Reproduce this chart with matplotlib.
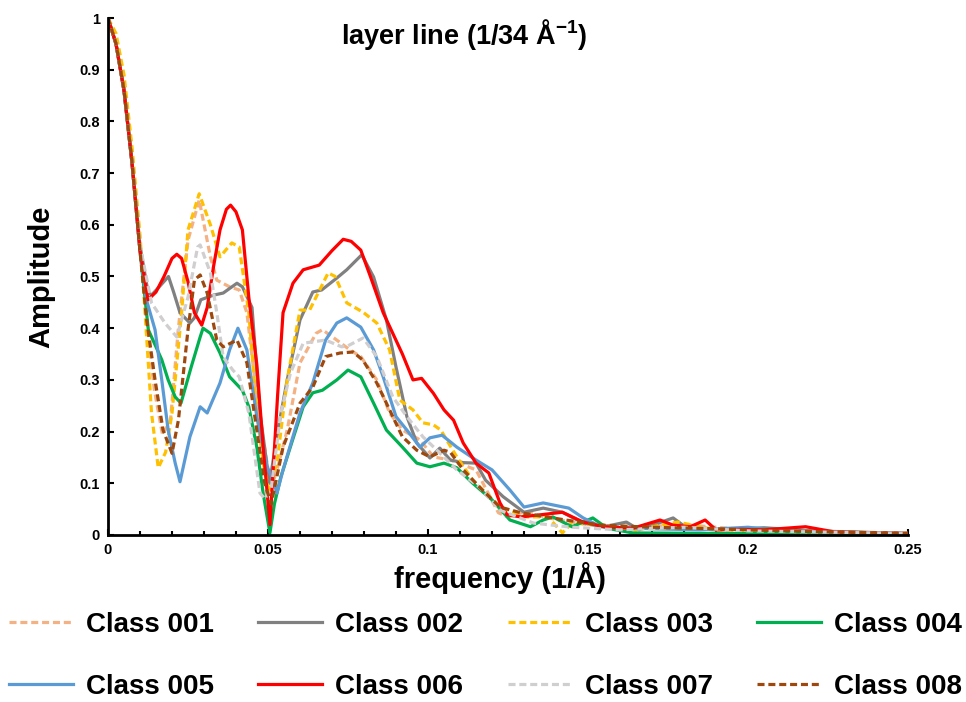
import matplotlib
matplotlib.use("Agg")
import matplotlib.pyplot as plt
from matplotlib.ticker import MultipleLocator, FormatStrFormatter

plt.rcParams['font.family'] = ['Liberation Sans', 'DejaVu Sans']
plt.rcParams['font.weight'] = 'bold'
plt.rcParams['mathtext.fontset'] = 'custom'
plt.rcParams['mathtext.rm'] = 'Liberation Sans:bold'

# data (frequency in 1/A, amplitude)
x001 = [0, .0025, .005, .0075, .01, .012, .0145, .017, .0195, .022, .025, .0285, .032, .034, .038, .041,
        .0434, .0465, .0497, .051, .053, .056, .06, .065, .067, .0715, .0756, .079, .084, .088, .092, .0975,
        .1017, .107, .115, .122, .125, .13, .14, .15, .165, .18, .2, .25]
y001 = [1, .95, .87, .73, .56, .42, .28, .195, .22, .40, .57, .648, .538, .493, .48, .474,
        .43, .267, .139, .09, .13, .203, .333, .39, .397, .377, .358, .345, .30, .236, .203, .184,
        .151, .145, .126, .043, .035, .045, .03, .02, .015, .02, .01, .003]

x002 = [0, .0025, .005, .0075, .01, .0125, .0136, .016, .0189, .0205, .0225, .0256, .027, .029, .033, .036,
        .0403, .042, .045, .0475, .05, .0505, .053, .056, .06, .064, .0668, .0715, .0746, .0793, .083, .087,
        .09, .0934, .0965, .1006, .1037, .107, .111, .115, .118, .1235, .13, .136, .142, .1485, .155, .162,
        .166, .1766, .181, .19, .205, .22, .25]
y002 = [1, .95, .86, .72, .56, .47, .464, .48, .50, .47, .43, .41, .42, .455, .464, .468,
        .487, .48, .44, .236, .12, .10, .20, .30, .416, .47, .474, .497, .513, .542, .499, .416,
        .325, .229, .178, .149, .168, .145, .14, .139, .106, .074, .044, .052, .044, .023, .016, .025,
        .01, .033, .013, .01, .014, .008, .003]

x003 = [0, .0025, .005, .0075, .01, .012, .0136, .0157, .018, .02, .023, .025, .0285, .032, .035, .0387,
        .041, .044, .0465, .0485, .0505, .053, .056, .06, .063, .0688, .071, .0746, .0797, .084, .088, .0912,
        .0953, .0984, .1017, .104, .109, .114, .1225, .131, .1375, .142, .145, .154, .165, .178, .19, .21, .25]
y003 = [1, .97, .89, .75, .58, .39, .236, .13, .16, .236, .43, .59, .66, .60, .538, .565,
        .557, .43, .236, .139, .08, .15, .30, .435, .435, .507, .50, .449, .431, .41, .358, .261,
        .242, .217, .213, .203, .151, .106, .054, .035, .035, .004, .023, .02, .01, .025, .01, .008, .003]

x004 = [0, .0025, .005, .0075, .01, .0126, .0168, .0188, .021, .0228, .026, .0288, .0297, .032, .035, .038,
        .042, .044, .0465, .0485, .0506, .052, .054, .058, .061, .064, .067, .0715, .075, .079, .083, .087,
        .092, .0965, .1006, .105, .109, .114, .12, .1256, .132, .136, .139, .145, .1515, .156, .164, .19, .25]
y004 = [1, .95, .86, .72, .55, .397, .339, .30, .267, .255, .325, .383, .40, .39, .352, .306,
        .28, .248, .17, .08, .004, .06, .112, .19, .248, .275, .28, .30, .319, .306, .255, .203,
        .17, .139, .132, .139, .13, .10, .068, .029, .016, .029, .035, .016, .033, .013, .004, .003, .002]

x005 = [0, .0025, .005, .0075, .01, .012, .0147, .0168, .0188, .021, .0225, .0256, .0288, .031, .035, .038,
        .0406, .0434, .0465, .0497, .0516, .0528, .0547, .06, .064, .068, .0715, .0746, .079, .083, .086, .09,
        .0934, .0975, .1006, .1044, .109, .115, .12, .1256, .13, .136, .144, .1485, .154, .17, .185, .2, .21, .25]
y005 = [1, .95, .86, .72, .55, .455, .397, .30, .203, .139, .103, .19, .248, .236, .294, .358,
        .40, .358, .229, .132, .106, .081, .126, .236, .294, .377, .41, .42, .402, .358, .306, .229,
        .203, .17, .188, .193, .17, .145, .126, .087, .054, .062, .052, .033, .016, .012, .01, .015, .008, .003]

x006 = [0, .0025, .005, .0075, .01, .0125, .015, .0175, .02, .0215, .023, .025, .027, .0293, .031, .033,
        .035, .037, .0383, .04, .042, .044, .0465, .0485, .0506, .053, .0547, .0578, .061, .066, .07, .0735,
        .076, .079, .082, .086, .089, .092, .0953, .098, .1017, .105, .108, .111, .115, .119, .1225, .1247,
        .129, .135, .142, .1485, .155, .164, .1725, .1766, .182, .1866, .19, .198, .205, .218, .227, .24, .25]
y006 = [1, .95, .86, .72, .55, .455, .47, .50, .535, .543, .535, .49, .43, .406, .44, .52,
        .59, .63, .638, .625, .59, .46, .33, .17, .02, .27, .43, .487, .513, .522, .55, .572,
        .568, .551, .50, .43, .39, .35, .30, .303, .274, .242, .222, .178, .139, .12, .062, .039,
        .035, .039, .044, .025, .016, .013, .029, .019, .016, .029, .01, .011, .01, .016, .006, .004, .003]

x007 = [0, .0025, .005, .0075, .01, .0136, .0178, .0215, .025, .028, .0288, .032, .034, .036, .039, .041,
        .044, .0475, .049, .051, .054, .057, .061, .068, .073, .075, .0797, .084, .089, .0934, .0984, .1028,
        .109, .116, .1225, .133, .145, .16, .18, .2, .25]
y007 = [1, .95, .86, .72, .56, .449, .41, .383, .46, .557, .561, .507, .43, .344, .319, .306,
        .236, .081, .07, .09, .236, .313, .371, .377, .364, .366, .381, .345, .267, .229, .19, .164,
        .126, .093, .048, .023, .015, .01, .015, .008, .003]

x008 = [0, .0025, .005, .0075, .01, .012, .0147, .0172, .02, .022, .025, .027, .0288, .031, .034, .036,
        .0403, .0434, .0465, .049, .051, .0547, .06, .064, .068, .0725, .0766, .0797, .084, .088, .092, .0965,
        .1006, .105, .107, .111, .117, .1225, .129, .143, .154, .17, .19, .21, .25]
y008 = [1, .95, .86, .72, .55, .42, .30, .203, .158, .222, .397, .493, .503, .468, .377, .364,
        .377, .333, .203, .10, .06, .17, .255, .286, .345, .352, .354, .338, .294, .242, .19, .164,
        .151, .164, .16, .126, .087, .054, .043, .029, .019, .015, .012, .008, .003]

names = ["Class 001", "Class 002", "Class 003", "Class 004",
         "Class 005", "Class 006", "Class 007", "Class 008"]
xs = [x001, x002, x003, x004, x005, x006, x007, x008]
ys = [y001, y002, y003, y004, y005, y006, y007, y008]
colors = ["#F4B183", "#808080", "#FFC000", "#00B050",
          "#5B9BD5", "#FF0000", "#D0CECE", "#9E480E"]
dashed = [True, False, True, False, False, False, True, True]

fig = plt.figure(figsize=(9.66, 7.02), dpi=100)
ax = fig.add_axes([108 / 966, 1 - 535 / 702, 800 / 966, 517 / 702])

handles = []
for x, y, c, d, n in zip(xs, ys, colors, dashed, names):
    if d:
        ln, = ax.plot(x, y, color=c, lw=2.3, dashes=(2.2, 1.2), label=n)
    else:
        ln, = ax.plot(x, y, color=c, lw=2.3, label=n)
    handles.append(ln)

ax.set_xlim(0, 0.25)
ax.set_ylim(0, 1)
ax.xaxis.set_major_locator(MultipleLocator(0.05))
ax.xaxis.set_minor_locator(MultipleLocator(0.01))
ax.yaxis.set_major_locator(MultipleLocator(0.1))
ax.xaxis.set_major_formatter(FormatStrFormatter('%g'))
ax.yaxis.set_major_formatter(FormatStrFormatter('%g'))
ax.tick_params(direction='in', width=1.5, length=4, labelsize=10.5, pad=6)
ax.tick_params(which='minor', direction='in', width=1.5, length=3)
for s in ['top', 'right']:
    ax.spines[s].set_visible(False)
for s in ['left', 'bottom']:
    ax.spines[s].set_linewidth(2)

ax.set_xlabel("frequency (1/Å)", fontsize=21, fontweight='bold')
ax.xaxis.set_label_coords(0.49, -0.052)
ax.set_ylabel("Amplitude", fontsize=21, fontweight='bold', labelpad=17)
fig.text(464 / 966, 1 - 34 / 702, "layer line (1/34 Å$^{\\mathregular{-1}}$)", fontsize=19.5,
         fontweight='bold', ha='center', va='center')

# legend filled row by row like the reference (matplotlib fills by column)
order = [0, 4, 1, 5, 2, 6, 3, 7]
fig.legend(handles=[handles[i] for i in order], ncol=4, loc='center',
           bbox_to_anchor=(0.5026, 1 - 656 / 702),
           frameon=False, fontsize=20, handlelength=2.3, columnspacing=1.6,
           handletextpad=0.47, labelspacing=1.3)

fig.savefig("out.png", dpi=100)
